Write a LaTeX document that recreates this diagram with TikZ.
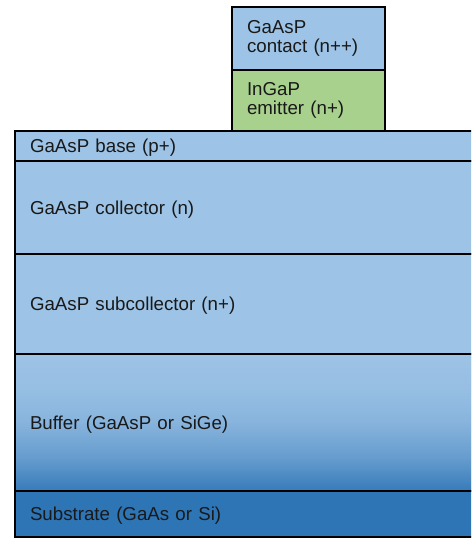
\documentclass[tikz,border=0pt]{standalone}
\usepackage{fontspec}
\setmainfont{Liberation Sans}
\usetikzlibrary{positioning}
\definecolor{layerblue}{HTML}{9DC3E6}
\definecolor{emittergreen}{HTML}{A9D18E}
\definecolor{substrateblue}{HTML}{2E75B6}
\pgfdeclareverticalshading{bufferfade}{100bp}{color(0bp)=(layerblue!8!substrateblue); color(25bp)=(layerblue!8!substrateblue); color(37bp)=(layerblue!50!substrateblue); color(50bp)=(layerblue!80!substrateblue); color(62bp)=(layerblue!94!substrateblue); color(75bp)=(layerblue); color(100bp)=(layerblue)}

\begin{document}
\begin{tikzpicture}[
    x=1pt, y=1pt,
    every node/.style={font=\fontsize{18.7}{19.5}\selectfont, text=black!90},
    layer/.style={draw=black, line width=2.7pt, fill=layerblue, outer sep=0pt,
        inner xsep=15pt, inner ysep=0pt, align=left},
    stacklayer/.style={layer, text depth=0pt, minimum width=520pt, text width=490pt},
    toplayer/.style={layer, minimum width=153pt, text width=123pt}
]
\useasboundingbox (0,0) rectangle (471,540);
\clip (0,0) rectangle (471,540);
\node[stacklayer, minimum height=30pt, anchor=north west] (base) at (15,409) {GaAsP base (p+)};
\node[stacklayer, minimum height=93pt, below=0pt of base] (collector) {GaAsP collector (n)};
\node[stacklayer, minimum height=100pt, below=0pt of collector] (subcollector) {GaAsP subcollector (n+)};
\node[stacklayer, minimum height=137pt, below=0pt of subcollector, shading=bufferfade] (buffer) {Buffer (GaAsP or SiGe)};
\node[stacklayer, minimum height=46pt, below=0pt of buffer, fill=substrateblue] (substrate) {Substrate (GaAs or Si)};
\node[toplayer, minimum height=61pt, fill=emittergreen, anchor=south west] (emitter)
    at ([xshift=217pt]base.north west) {InGaP\\emitter (n+)};
\node[toplayer, minimum height=63pt, above=0pt of emitter] (contact) {GaAsP\\contact (n++)};
\end{tikzpicture}
\end{document}
